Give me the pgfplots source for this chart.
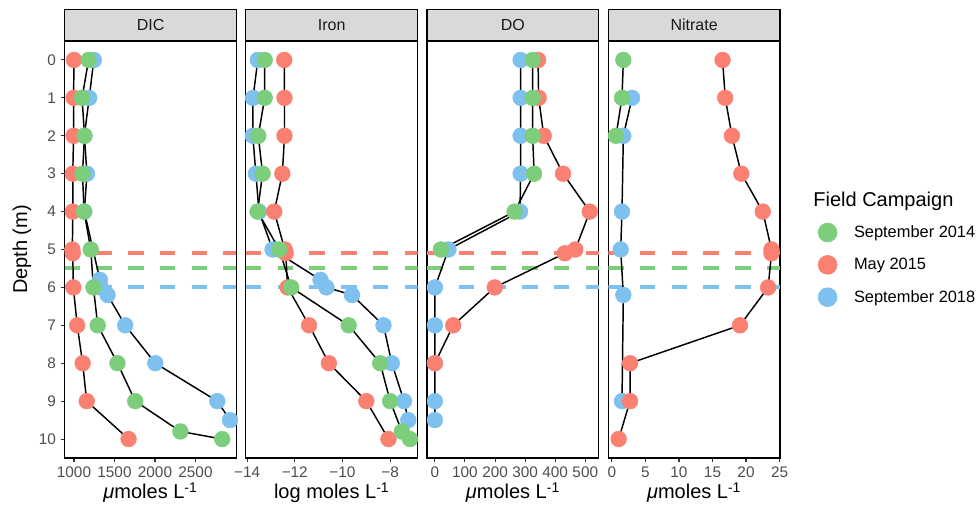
\documentclass[border=0pt]{standalone}
\usepackage{pgfplots}
\pgfplotsset{compat=1.18}
\usepackage{pgfplotstable}
\usepackage{fontspec}
\setmainfont{Liberation Sans}
\definecolor{cgreen}{HTML}{7CCD7C}
\definecolor{cred}{HTML}{FA8072}
\definecolor{cblue}{HTML}{7EC0EE}
\definecolor{gray85}{HTML}{D9D9D9}
\definecolor{gray30}{HTML}{4D4D4D}
\definecolor{gray20}{HTML}{333333}
\definecolor{gray10}{HTML}{1A1A1A}

% ---------------- DIC ----------------
\pgfplotstableread{
v d
1180 0
1100 1
1130 2
1105 3
1125 4
1207 5
1240 6
1293 7
1537 8
1756 9
2314 9.8
2830 10
}\dicG
\pgfplotstableread{
v d
1000 0
995 1
995 2
985 3
985 4
980 5
985 5.1
992 6
1040 7
1107 8
1157 9
1674 10
}\dicR
\pgfplotstableread{
v d
1245 0
1188 1
1128 2
1160 3
1128 4
1320 5.8
1330 6
1415 6.2
1632 7
2004 8
2769 9
2926 9.5
}\dicB
% ---------------- Iron ----------------
\pgfplotstableread{
v d
-13.26 0
-13.26 1
-13.53 2
-13.35 3
-13.56 4
-12.65 5
-12.15 6
-9.74 7
-8.42 8
-8.0 9
-7.51 9.8
-7.17 10
}\feG
\pgfplotstableread{
v d
-12.44 0
-12.43 1
-12.43 2
-12.52 3
-12.86 4
-12.42 5
-12.38 5.1
-12.30 6
-11.40 7
-10.57 8
-9.00 9
-8.07 10
}\feR
\pgfplotstableread{
v d
-13.55 0
-13.75 1
-13.76 2
-13.63 3
-13.50 4
-12.93 5
-10.92 5.8
-10.67 6
-9.60 6.2
-8.28 7
-7.93 8
-7.42 9
-7.24 9.5
}\feB
% ---------------- DO ----------------
\pgfplotstableread{
v d
325 0
325 1
325 2
330 3
265 4
20 5
}\doG
\pgfplotstableread{
v d
343 0
345 1
362 2
426 3
515 4
467 5
432 5.1
199 6
61 7
0 8
}\doR
\pgfplotstableread{
v d
285 0
285 1
285 2
285 3
283 4
45 5
0 6
0 7
0 8
0 9
0 9.5
}\doB
% ---------------- Nitrate ----------------
\pgfplotstableread{
v d
1.7 0
1.5 1
0.6 2
}\noG
\pgfplotstableread{
v d
16.5 0
16.9 1
17.9 2
19.3 3
22.5 4
23.8 5
23.8 5.1
23.3 6
19.1 7
2.7 8
2.7 9
1.0 10
}\noR
\pgfplotstableread{
v d
3.0 1
1.7 2
1.5 4
1.3 5
1.7 6.2
1.5 9
}\noB

\pgfplotsset{
  panel/.style={
    scale only axis, width=128.8pt, height=312.75pt,
    anchor=south west,
    y dir=reverse, ymin=-0.5, ymax=10.5,
    ytick={0,...,10},
    axis line style={black, line width=0.9pt},
    tick align=outside, major tick length=3pt,
    tick style={gray20, line width=0.8pt},
    tick pos=left,
    /pgf/number format/assume math mode=true,
    xticklabel style={font=\fontsize{11.5}{13}\selectfont, text=gray30},
    yticklabel style={font=\fontsize{11.5}{13}\selectfont, text=gray30},
    every axis x label/.style={at={(axis description cs:0.5,-0.0983)}, anchor=base, font=\fontsize{15}{18}\selectfont},
    every axis y label/.style={at={(axis description cs:-0.249,0.5)}, rotate=90, anchor=center, font=\fontsize{15}{18}\selectfont},
    legend image code/.code={\fill[##1] (7.1pt,0pt) circle (7.1pt);},
  },
  pts/.style={only marks, mark=*, mark size=5.9pt},
  pth/.style={black, line width=1.1pt, no marks},
  hl/.style={line width=3pt, dash pattern=on 11.6pt off 12.2pt, no marks},
}

\newcommand{\strip}[2]{%
  \draw[fill=gray85, line width=0.9pt] (#1.north west) rectangle ([yshift=23.8pt]#1.north east);
  \node[font=\fontsize{12}{14}\selectfont, text=gray10] at ([yshift=11.9pt]#1.north) {#2};
}

\begin{document}
\begin{tikzpicture}
% ---------- DIC ----------
\begin{axis}[panel, name=a1, at={(48.5pt,39pt)},
  xmin=885, xmax=3005, xtick={1000,1500,2000,2500},
  xticklabels={1000,1500,2000,2500},
  xlabel={\textit{μ}moles L\textsuperscript{-1}}, ylabel={Depth (m)}]
\addplot[pts, cblue] table[x=v,y=d]{\dicB};
\addplot[pts, cred] table[x=v,y=d]{\dicR};
\addplot[pts, cgreen] table[x=v,y=d]{\dicG};
\addplot[hl, cred] coordinates {(885,5.1) (3005,5.1)};
\addplot[hl, cgreen] coordinates {(885,5.5) (3005,5.5)};
\addplot[hl, cblue] coordinates {(885,6) (3005,6)};
\addplot[pth] table[x=v,y=d]{\dicB};
\addplot[pth] table[x=v,y=d]{\dicR};
\addplot[pth] table[x=v,y=d]{\dicG};
\end{axis}
\strip{a1}{DIC}
% ---------- Iron ----------
\begin{axis}[panel, name=a2, at={(184.4pt,39pt)},
  xmin=-14.05, xmax=-6.85, xtick={-14,-12,-10,-8},
  xticklabels={−14,−12,−10,−8}, ytick=\empty,
  xlabel={log moles L\textsuperscript{-1}}]
\addplot[pts, cblue] table[x=v,y=d]{\feB};
\addplot[pts, cred] table[x=v,y=d]{\feR};
\addplot[pts, cgreen] table[x=v,y=d]{\feG};
\addplot[hl, cred] coordinates {(-14.05,5.1) (-6.85,5.1)};
\addplot[hl, cgreen] coordinates {(-14.05,5.5) (-6.85,5.5)};
\addplot[hl, cblue] coordinates {(-14.05,6) (-6.85,6)};
\addplot[pth] table[x=v,y=d]{\feB};
\addplot[pth] table[x=v,y=d]{\feR};
\addplot[pth] table[x=v,y=d]{\feG};
\end{axis}
\strip{a2}{Iron}
% ---------- DO ----------
\begin{axis}[panel, name=a3, at={(320.3pt,39pt)},
  xmin=-26, xmax=545, xtick={0,100,200,300,400,500},
  xticklabels={0,100,200,300,400,500}, ytick=\empty,
  xlabel={\textit{μ}moles L\textsuperscript{-1}}]
\addplot[pts, cblue] table[x=v,y=d]{\doB};
\addplot[pts, cred] table[x=v,y=d]{\doR};
\addplot[pts, cgreen] table[x=v,y=d]{\doG};
\addplot[hl, cred] coordinates {(-26,5.1) (545,5.1)};
\addplot[hl, cgreen] coordinates {(-26,5.5) (545,5.5)};
\addplot[hl, cblue] coordinates {(-26,6) (545,6)};
\addplot[pth] table[x=v,y=d]{\doB};
\addplot[pth] table[x=v,y=d]{\doR};
\addplot[pth] table[x=v,y=d]{\doG};
\end{axis}
\strip{a3}{DO}
% ---------- Nitrate ----------
\begin{axis}[panel, name=a4, at={(456.2pt,39pt)},
  xmin=-0.55, xmax=25.07, xtick={0,5,10,15,20,25},
  xticklabels={0,5,10,15,20,25}, ytick=\empty,
  xlabel={\textit{μ}moles L\textsuperscript{-1}},
  legend cell align=left,
  legend style={at={(axis description cs:1.2205,0.564)}, anchor=north west,
    draw=none, fill=none, inner sep=0pt, outer sep=0pt,
    row sep=9.65pt, column sep=12.5pt,
    font=\fontsize{12.3}{14}\selectfont, nodes={inner sep=0pt}}]
\addlegendimage{cgreen}\addlegendentry{September 2014}
\addlegendimage{cred}\addlegendentry{May 2015}
\addlegendimage{cblue}\addlegendentry{September 2018}
\addplot[pts, cblue] table[x=v,y=d]{\noB};
\addplot[pts, cred] table[x=v,y=d]{\noR};
\addplot[pts, cgreen] table[x=v,y=d]{\noG};
\addplot[hl, cred] coordinates {(-0.55,5.1) (25.07,5.1)};
\addplot[hl, cgreen] coordinates {(-0.55,5.5) (25.07,5.5)};
\addplot[hl, cblue] coordinates {(-0.55,6) (25.07,6)};
\addplot[pth] table[x=v,y=d]{\noB};
\addplot[pth] table[x=v,y=d]{\noR};
\addplot[pth] table[x=v,y=d]{\noG};
\end{axis}
\strip{a4}{Nitrate}
\node[anchor=base west, font=\fontsize{15}{18}\selectfont] at (606.5pt,227.25pt) {Field Campaign};
\pgfresetboundingbox
\path (0,0) rectangle (732pt,382.5pt);
\end{tikzpicture}
\end{document}
